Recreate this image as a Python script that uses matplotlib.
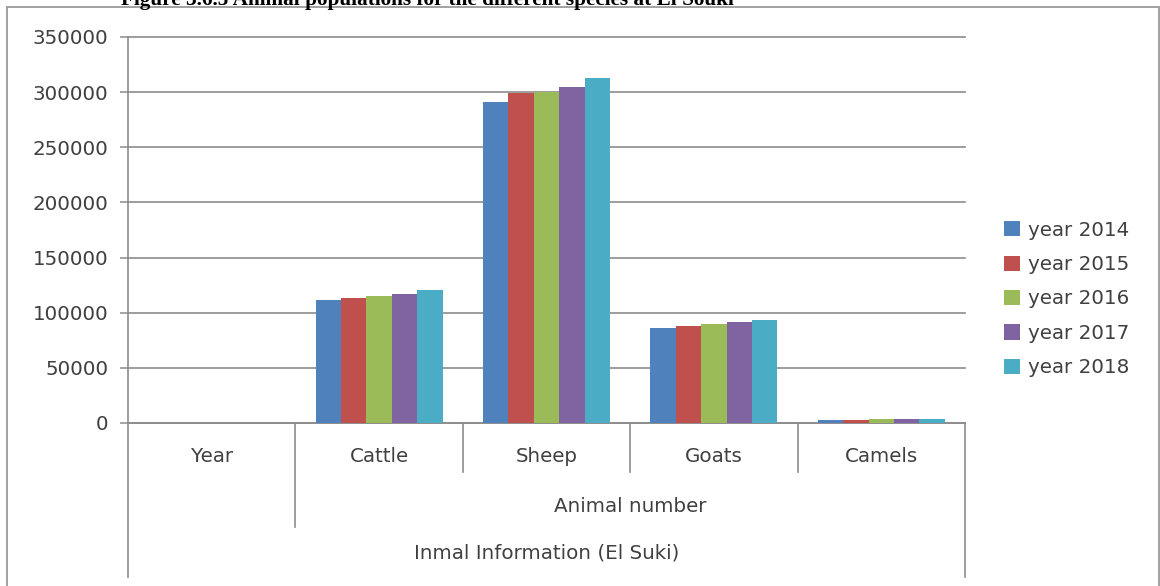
import numpy as np
import matplotlib.pyplot as plt
from matplotlib.patches import Rectangle
from matplotlib.lines import Line2D
from matplotlib.transforms import blended_transform_factory

# ---- data -------------------------------------------------------------
categories = ["Year", "Cattle", "Sheep", "Goats", "Camels"]
series_labels = ["year 2014", "year 2015", "year 2016", "year 2017", "year 2018"]
y2014 = [np.nan, 111500, 291000, 85700, 3000]
y2015 = [np.nan, 113000, 299000, 87900, 3100]
y2016 = [np.nan, 115000, 300500, 89400, 3200]
y2017 = [np.nan, 117000, 305000, 91200, 3300]
y2018 = [np.nan, 120600, 312500, 93100, 3400]
group_label = "Animal number"
outer_label = "Inmal Information (El Suki)"
caption = "Figure 3.6.5 Animal populations for the different species at El Souki"
yticks = [0, 50000, 100000, 150000, 200000, 250000, 300000, 350000]

# ---- styling ----------------------------------------------------------
colors = ["#4F81BD", "#C0504D", "#9BBB59", "#8064A2", "#4BACC6"]
text_color = "#404040"
line_color = "#8C8C8C"
plt.rcParams["font.family"] = ["DejaVu Sans"]
fs = 14.3

W, H = 1160, 586
fig = plt.figure(figsize=(W / 100, H / 100), dpi=100)
fig.patch.set_facecolor("white")


def fx(px):
    return px / W


def fy(py):
    return 1 - py / H


# chart frame
fig.add_artist(Rectangle((fx(7), fy(600)), fx(1159) - fx(7), fy(7) - fy(600),
                         transform=fig.transFigure, fill=False,
                         edgecolor="#9A9A9A", linewidth=1.3))

# caption running off the top edge
fig.text(fx(121), fy(5), caption, family="Liberation Serif", fontweight="bold",
         fontsize=15.3, ha="left", va="baseline", color="black")

ax = fig.add_axes([fx(128), fy(423), fx(965) - fx(128), fy(37) - fy(423)])

series = [y2014, y2015, y2016, y2017, y2018]
x = np.arange(len(categories))
group_w = 0.758
bw = group_w / len(series)
handles = []
for i, (vals, lab, c) in enumerate(zip(series, series_labels, colors)):
    b = ax.bar(x + (i - (len(series) - 1) / 2) * bw, vals, width=bw,
               color=c, label=lab, zorder=3, linewidth=0)
    handles.append(b)

ax.set_xlim(-0.5, len(categories) - 0.5)
ax.set_ylim(0, 350000)
ax.set_yticks(yticks)
ax.set_yticklabels([str(v) for v in yticks])
ax.yaxis.grid(True, color=line_color, linewidth=1.2, zorder=0)
for gl in ax.get_ygridlines():
    gl.set_clip_on(False)
ax.set_axisbelow(True)
ax.tick_params(axis="y", direction="out", length=6, width=1.1, color=line_color,
               labelsize=fs, labelcolor=text_color, pad=8)
ax.set_xticks([])
for s in ["top", "right"]:
    ax.spines[s].set_visible(False)
for s in ["left", "bottom"]:
    ax.spines[s].set_color(line_color)
    ax.spines[s].set_linewidth(1.2)

# multi-level category axis
tr = blended_transform_factory(ax.transData, fig.transFigure)
for i, cat in enumerate(categories):
    ax.text(i, fy(456), cat, transform=tr, ha="center", va="center",
            fontsize=fs, color=text_color)
ax.text((1 + len(categories) - 1) / 2, fy(506), group_label, transform=tr,
        ha="center", va="center", fontsize=fs, color=text_color)
ax.text((len(categories) - 1) / 2, fy(553), outer_label, transform=tr,
        ha="center", va="center", fontsize=fs, color=text_color)

sep_bottoms = {-0.5: 577, 0.5: 527, 1.5: 472, 2.5: 472, 3.5: 472,
               len(categories) - 0.5: 577}
for xs, yb in sep_bottoms.items():
    fig.add_artist(Line2D([xs, xs], [fy(423), fy(yb)], transform=tr,
                          color=line_color, linewidth=1.2))

ax.legend(handles=handles, labels=series_labels, loc="center left",
          bbox_to_anchor=(fx(1004), fy(299)), bbox_transform=fig.transFigure,
          frameon=False, fontsize=fs, handlelength=0.8, handleheight=0.8,
          handletextpad=0.4, labelspacing=0.78, borderaxespad=0, borderpad=0,
          labelcolor=text_color)

fig.savefig("out.png", dpi=100)
